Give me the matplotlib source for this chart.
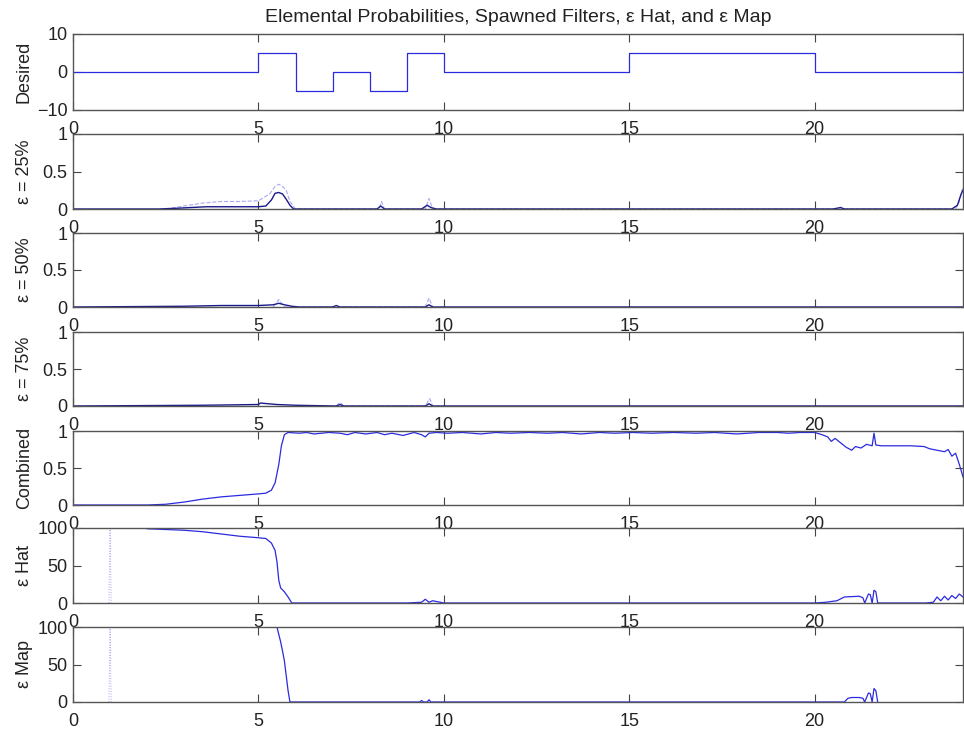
import numpy as np
import matplotlib
matplotlib.use("Agg")
from matplotlib import pyplot as plt

plt.rcParams['font.family'] = ['Liberation Sans', 'DejaVu Sans']

# desired signal (step levels)
desired_t = [0, 5, 6, 7, 8, 9, 10, 15, 20, 24]
desired_v = [0, 5, -5, 0, -5, 5, 0, 5, 0, 0]

# elemental probabilities, eps = 25 %
p25_t = [0, 2.3, 2.8, 3.2, 3.6, 4.0, 4.5, 5.0, 5.2, 5.35, 5.45, 5.55, 5.65, 5.75, 5.85, 5.95,
         7.5, 8.2, 8.3, 8.4, 9.4, 9.55, 9.65, 9.8, 10.2, 20.5, 20.7, 20.8, 23.7, 23.85, 23.95, 24]
p25_v = [0, 0, 0.01, 0.02, 0.03, 0.03, 0.03, 0.03, 0.04, 0.12, 0.21, 0.22, 0.2, 0.13, 0.05, 0,
         0, 0, 0.04, 0, 0, 0.05, 0.02, 0, 0, 0, 0.02, 0, 0, 0.05, 0.2, 0.25]
p25f_t = [2.5, 3.0, 3.5, 4.0, 4.5, 5.0, 5.3, 5.45, 5.55, 5.65, 5.75, 5.85, 6.0,
          8.25, 8.32, 8.4, 9.5, 9.6, 9.7, 23.8, 23.9, 24]
p25f_v = [0, 0.04, 0.08, 0.1, 0.1, 0.11, 0.2, 0.3, 0.33, 0.3, 0.25, 0.1, 0,
          0, 0.1, 0, 0, 0.14, 0, 0, 0.1, 0.3]

# eps = 50 %
p50_t = [0, 3.0, 4.0, 5.0, 5.4, 5.55, 5.7, 5.9, 6.1, 7.0, 7.1, 7.2, 9.5, 9.6, 9.7, 24]
p50_v = [0, 0.01, 0.02, 0.02, 0.03, 0.05, 0.03, 0.01, 0, 0, 0.02, 0, 0, 0.03, 0, 0]
p50f_t = [5.4, 5.55, 5.7, 9.5, 9.6, 9.7]
p50f_v = [0, 0.1, 0, 0, 0.12, 0]

# eps = 75 %
p75_t = [0, 3.5, 5.0, 5.05, 5.5, 6.0, 7.1, 7.2, 7.3, 9.5, 9.6, 9.7, 24]
p75_v = [0, 0.01, 0.02, 0.04, 0.02, 0.01, 0, 0.02, 0, 0, 0.03, 0, 0]
p75f_t = [7.1, 7.2, 7.3, 9.5, 9.62, 9.7]
p75f_v = [0, 0.05, 0, 0, 0.1, 0]

# combined probability
comb_t = [0, 1, 2, 2.5, 3, 3.5, 4, 4.5, 5, 5.2, 5.35, 5.45, 5.55, 5.62, 5.7, 5.8, 6.1, 6.3, 6.5, 6.9,
          7.2, 7.4, 7.6, 7.9, 8.2, 8.4, 8.6, 8.9, 9.2, 9.4, 9.5, 9.6, 9.8, 10.1, 10.5, 11, 11.4,
          11.8, 12.3, 12.8, 13.2, 13.7, 14.2, 14.6, 15.1, 15.6, 16.2, 16.8, 17.3, 17.9, 18.5, 19.0,
          19.3, 19.6, 20.0, 20.2, 20.35, 20.45, 20.55, 20.7, 20.85, 21.0, 21.1, 21.25, 21.4, 21.55,
          21.6, 21.65, 21.8, 22.2, 22.6, 22.95, 23.1, 23.3, 23.5, 23.6, 23.7, 23.8, 23.9, 24.0]
comb_v = [0, 0, 0, 0.01, 0.04, 0.08, 0.11, 0.13, 0.15, 0.16, 0.2, 0.3, 0.55, 0.8, 0.95, 0.98,
          0.97, 0.98, 0.96, 0.98, 0.97, 0.95, 0.98, 0.96, 0.98, 0.95, 0.97, 0.94, 0.98, 0.95,
          0.92, 0.97, 0.98, 0.97, 0.98, 0.96, 0.98, 0.97, 0.98, 0.97, 0.98, 0.96, 0.98, 0.97,
          0.98, 0.97, 0.98, 0.97, 0.98, 0.96, 0.98, 0.98, 0.97, 0.98, 0.98, 0.95, 0.92, 0.86,
          0.9, 0.84, 0.78, 0.74, 0.79, 0.77, 0.82, 0.8, 0.97, 0.81, 0.8, 0.8, 0.8, 0.79, 0.76,
          0.74, 0.72, 0.75, 0.66, 0.7, 0.55, 0.38]

# eps hat
hat_t = [1.9, 2.0, 2.5, 3.0, 3.5, 4.0, 4.5, 5.0, 5.2, 5.35, 5.45, 5.5, 5.55, 5.6, 5.7, 5.8, 5.9,
         7, 8, 9, 9.4, 9.5, 9.6, 9.7, 10, 12, 14, 16, 18, 20, 20.3, 20.6, 20.8, 21.2, 21.3, 21.35,
         21.45, 21.5, 21.55, 21.6, 21.65, 21.7, 21.75, 22, 23, 23.2, 23.3, 23.4, 23.5, 23.6, 23.7,
         23.8, 23.9, 24]
hat_v = [101, 99, 98, 97, 95, 92, 89, 87, 86, 80, 70, 55, 30, 20, 15, 8, 0,
         0, 0, 0, 1, 5, 1, 3, 0, 0, 0, 0, 0, 0, 1, 3, 8, 9, 7, 0,
         12, 11, 0, 17, 15, 0, 0, 0, 0, 1, 8, 3, 9, 4, 10,
         6, 12, 8]
hatf_t = [0.97, 1.0, 1.03]
hatf_v = [0, 100, 0]

# eps map
map_t = [5.45, 5.5, 5.6, 5.65, 5.7, 5.75, 5.8, 5.85, 9.35, 9.4, 9.45, 9.55, 9.6, 9.65, 20.8,
         20.9, 21.0, 21.2, 21.3, 21.35, 21.45, 21.5, 21.55, 21.6, 21.65, 21.7]
map_v = [110, 100, 80, 68, 55, 35, 15, 0, 0, 2, 0, 0, 3, 0, 0,
         5, 6, 6, 5, 0, 12, 11, 0, 18, 15, 0]
mapf_t = [0.97, 1.0, 1.03]
mapf_v = [0, 100, 0]

ylabels = ['Desired', 'ε = 25%', 'ε = 50%', 'ε = 75%', 'Combined', 'ε Hat', 'ε Map']

W, H = 964, 731
tops = [34, 134, 233, 332, 431, 528, 627]
bots = [110, 209, 307, 406, 505, 603, 702]
left, right = 73, 963

fig = plt.figure(figsize=(W / 100, H / 100), dpi=100)
line_c = '#2a2ae0'
faint_c = '#a8a8f0'
axes = []
for i in range(7):
    ax = fig.add_axes([left / W, 1 - bots[i] / H, (right - left) / W, (bots[i] - tops[i]) / H])
    axes.append(ax)

axes[0].plot(desired_t, desired_v, color=line_c, lw=0.9, drawstyle='steps-post')
for ax, (ft, fv, mt, mv) in zip(axes[1:4], [(p25f_t, p25f_v, p25_t, p25_v),
                                          (p50f_t, p50f_v, p50_t, p50_v),
                                          (p75f_t, p75f_v, p75_t, p75_v)]):
    ax.plot(ft, fv, color=faint_c, lw=0.8, ls='--')
    ax.plot(mt, mv, color='#1a1a8c', lw=1.0)
axes[4].plot(comb_t, comb_v, color=line_c, lw=0.9)
axes[5].plot(hatf_t, hatf_v, color=faint_c, lw=0.7, ls=':')
axes[5].plot(hat_t, hat_v, color=line_c, lw=0.9)
axes[6].plot(mapf_t, mapf_v, color=faint_c, lw=0.7, ls=':')
axes[6].plot(map_t, map_v, color=line_c, lw=0.9)

for i, ax in enumerate(axes):
    ax.set_xlim(0, 24)
    ax.set_xticks([0, 5, 10, 15, 20])
    if i == 0:
        ax.set_ylim(-10, 10)
        ax.set_yticks([-10, 0, 10])
    elif i < 5:
        ax.set_ylim(0, 1)
        ax.set_yticks([0, 0.5, 1])
        ax.set_yticklabels(['0', '0.5', '1'])
    else:
        ax.set_ylim(0, 100)
        ax.set_yticks([0, 50, 100])
    ax.tick_params(direction='in', length=6, width=0.8, color='#444444',
                   top=True, right=True, labelsize=13, pad=4, labelcolor='#222222')
    ax.tick_params(axis='x', pad=8)
    for s in ax.spines.values():
        s.set_color('#555555')
        s.set_linewidth(1.0)
    ax.set_ylabel(ylabels[i], fontsize=13, color='#222222')
    ax.yaxis.set_label_coords(-0.045, 0.5)
    ax.patch.set_alpha(0)

fig.text((left + right) / 2 / W, 1 - 17 / H,
         'Elemental Probabilities, Spawned Filters, ε Hat, and ε Map',
         ha='center', va='center', fontsize=14, color='#222222')

fig.savefig('out.png', dpi=100)
